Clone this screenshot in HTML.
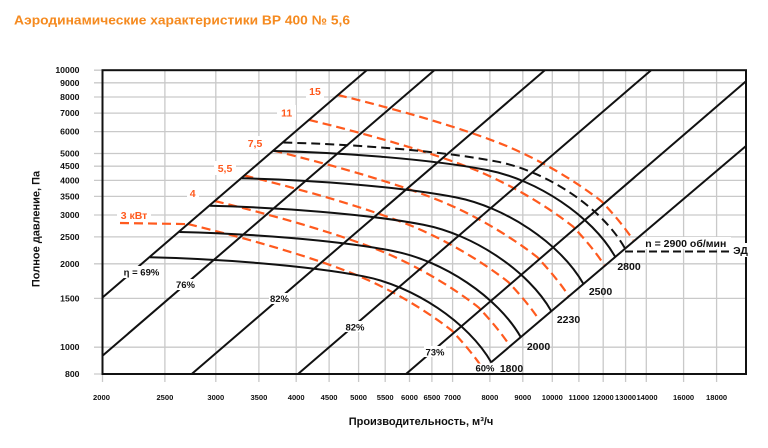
<!DOCTYPE html>
<html>
<head>
<meta charset="utf-8">
<style>
html,body{margin:0;padding:0;background:#fff;}
svg{display:block;}
text{font-family:"Liberation Sans","DejaVu Sans",sans-serif;}
</style>
</head>
<body>
<svg width="768" height="448" viewBox="0 0 768 448" xmlns="http://www.w3.org/2000/svg">
<rect width="768" height="448" fill="#fff"/>

<text x="14" y="24.5" font-size="13" font-weight="bold" fill="#f58a1f" textLength="336" lengthAdjust="spacingAndGlyphs">Аэродинамические характеристики ВР 400 № 5,6</text>

<!-- grid -->
<g stroke="#c9c9c9" stroke-width="1.3" fill="none">
  <line x1="164.9" y1="70" x2="164.9" y2="382"/>
  <line x1="215.8" y1="70" x2="215.8" y2="382"/>
  <line x1="258.9" y1="70" x2="258.9" y2="382"/>
  <line x1="296.2" y1="70" x2="296.2" y2="382"/>
  <line x1="329.1" y1="70" x2="329.1" y2="382"/>
  <line x1="358.6" y1="70" x2="358.6" y2="382"/>
  <line x1="385.2" y1="70" x2="385.2" y2="382"/>
  <line x1="409.5" y1="70" x2="409.5" y2="382"/>
  <line x1="431.9" y1="70" x2="431.9" y2="382"/>
  <line x1="452.6" y1="70" x2="452.6" y2="382"/>
  <line x1="489.9" y1="70" x2="489.9" y2="382"/>
  <line x1="522.8" y1="70" x2="522.8" y2="382"/>
  <line x1="552.3" y1="70" x2="552.3" y2="382"/>
  <line x1="578.9" y1="70" x2="578.9" y2="382"/>
  <line x1="603.2" y1="70" x2="603.2" y2="382"/>
  <line x1="625.6" y1="70" x2="625.6" y2="382"/>
  <line x1="646.3" y1="70" x2="646.3" y2="382"/>
  <line x1="683.6" y1="70" x2="683.6" y2="382"/>
  <line x1="716.6" y1="70" x2="716.6" y2="382"/>
  <line x1="102.5" y1="374" x2="102.5" y2="382"/>

  <line x1="94" y1="70.2" x2="746" y2="70.2"/>
  <line x1="94" y1="82.8" x2="746" y2="82.8"/>
  <line x1="94" y1="97" x2="746" y2="97"/>
  <line x1="94" y1="113.1" x2="746" y2="113.1"/>
  <line x1="94" y1="131.6" x2="746" y2="131.6"/>
  <line x1="94" y1="153.5" x2="746" y2="153.5"/>
  <line x1="94" y1="166.2" x2="746" y2="166.2"/>
  <line x1="94" y1="180.4" x2="746" y2="180.4"/>
  <line x1="94" y1="196.4" x2="746" y2="196.4"/>
  <line x1="94" y1="215" x2="746" y2="215"/>
  <line x1="94" y1="236.9" x2="746" y2="236.9"/>
  <line x1="94" y1="263.8" x2="746" y2="263.8"/>
  <line x1="94" y1="298.4" x2="746" y2="298.4"/>
  <line x1="94" y1="347.2" x2="746" y2="347.2"/>
  <line x1="94" y1="374" x2="746" y2="374"/>
</g>

<!-- y tick labels -->
<g font-size="8.7" font-weight="bold" fill="#111" text-anchor="end">
  <text x="79.5" y="73.2">10000</text>
  <text x="79.5" y="85.8">9000</text>
  <text x="79.5" y="100">8000</text>
  <text x="79.5" y="116.1">7000</text>
  <text x="79.5" y="134.6">6000</text>
  <text x="79.5" y="156.5">5000</text>
  <text x="79.5" y="169.2">4500</text>
  <text x="79.5" y="183.4">4000</text>
  <text x="79.5" y="199.4">3500</text>
  <text x="79.5" y="218">3000</text>
  <text x="79.5" y="239.9">2500</text>
  <text x="79.5" y="266.8">2000</text>
  <text x="79.5" y="301.4">1500</text>
  <text x="79.5" y="350.2">1000</text>
  <text x="79.5" y="377">800</text>
</g>

<!-- x tick labels -->
<g font-size="7.6" font-weight="bold" fill="#111" text-anchor="middle">
  <text x="101.5" y="400">2000</text>
  <text x="164.9" y="400">2500</text>
  <text x="215.8" y="400">3000</text>
  <text x="258.9" y="400">3500</text>
  <text x="296.2" y="400">4000</text>
  <text x="329.1" y="400">4500</text>
  <text x="358.6" y="400">5000</text>
  <text x="385.2" y="400">5500</text>
  <text x="409.5" y="400">6000</text>
  <text x="431.9" y="400">6500</text>
  <text x="452.6" y="400">7000</text>
  <text x="489.9" y="400">8000</text>
  <text x="522.8" y="400">9000</text>
  <text x="552.3" y="400">10000</text>
  <text x="578.9" y="400">11000</text>
  <text x="603.2" y="400">12000</text>
  <text x="625.6" y="400">13000</text>
  <text x="647" y="400">14000</text>
  <text x="683.6" y="400">16000</text>
  <text x="716.6" y="400">18000</text>
</g>

<!-- axis titles -->
<text x="421" y="425" font-size="11" font-weight="bold" fill="#111" text-anchor="middle">Производительность, м³/ч</text>
<text transform="translate(39.5,229) rotate(-90)" font-size="11" font-weight="bold" fill="#111" text-anchor="middle">Полное давление, Па</text>

<!-- power curves (orange dashed) -->
<defs>
  <path id="pw" d="M338,95 C395,109 460,127 506.6,146 C538,159.2 573,179 602,201.7 C612,212.5 624,226 633,240"/>
  <path id="sp" d="M273.5,151 C340,152.5 430,159 487,170 C537,179.6 592,216 615,256.5"/>
</defs>
<g fill="none" stroke="#ff5a1e" stroke-width="2.2" stroke-dasharray="9,5">
  <use href="#pw"/>
  <use href="#pw" transform="translate(-28.9,24.9)"/>
  <use href="#pw" transform="translate(-64.6,55.6)"/>
  <use href="#pw" transform="translate(-93.5,80.5)"/>
  <use href="#pw" transform="translate(-123.1,106)"/>
  <use href="#pw" transform="translate(-149.9,129.1)"/>
  <path d="M120,223 L188.1,224.1"/>
</g>

<!-- speed curves -->
<g fill="none" stroke="#111" stroke-width="2">
  <use href="#sp"/>
  <use href="#sp" transform="translate(-31.67,27.27)"/>
  <use href="#sp" transform="translate(-63.61,54.76)"/>
  <use href="#sp" transform="translate(-94.03,80.96)"/>
  <use href="#sp" transform="translate(-123.48,106.31)"/>
</g>
<g fill="none" stroke="#111" stroke-width="2" stroke-dasharray="9,5">
  <use href="#sp" transform="translate(9.81,-8.44)"/>
  <path d="M625,251.5 L731,251.5" stroke-dasharray="8,4"/>
</g>

<!-- straight diagonal lines -->
<g stroke="#111" stroke-width="2" fill="none">
  <line x1="102.5" y1="297.5" x2="366.7" y2="70.2"/>
  <line x1="102.5" y1="355.7" x2="434.3" y2="70.2"/>
  <line x1="191.7" y1="374" x2="544.8" y2="70.2"/>
  <line x1="298" y1="374" x2="651.1" y2="70.2"/>
  <line x1="406" y1="374" x2="746" y2="81.3"/>
  <line x1="491.5" y1="362" x2="746" y2="146"/>
</g>

<!-- plot border -->
<rect x="102.5" y="70.2" width="643.5" height="303.8" fill="none" stroke="#111" stroke-width="2"/>

<!-- label backgrounds -->
<g fill="#fff">
  <rect x="122" y="266" width="39" height="12"/>
  <rect x="175" y="279" width="21" height="11"/>
  <rect x="269" y="293" width="21" height="11"/>
  <rect x="344" y="321" width="22" height="11"/>
  <rect x="424" y="346" width="22" height="11"/>
  <rect x="474" y="363.5" width="22" height="9"/>
  <rect x="306" y="84" width="18" height="14"/>
  <rect x="277" y="105" width="19" height="15"/>
  <rect x="244" y="136" width="22" height="14"/>
  <rect x="214" y="161" width="22" height="14"/>
  <rect x="187" y="186" width="12" height="14"/>
  <rect x="117" y="208" width="34" height="12"/>
  <rect x="641" y="237" width="90" height="12"/>
  <rect x="733" y="243" width="15" height="14"/>
</g>

<!-- efficiency labels -->
<g font-size="9.5" font-weight="bold" fill="#111" text-anchor="middle">
  <text x="141.5" y="275.5">η = 69%</text>
  <text x="185.5" y="288">76%</text>
  <text x="279.5" y="302">82%</text>
  <text x="355" y="330.5">82%</text>
  <text x="435" y="355.5">73%</text>
  <text x="485" y="371.5">60%</text>
</g>

<!-- speed labels -->
<g font-size="10.5" font-weight="bold" fill="#111" text-anchor="middle">
  <text x="511.5" y="371.8">1800</text>
  <text x="538.5" y="349.8">2000</text>
  <text x="568.5" y="322.8">2230</text>
  <text x="600.5" y="294.8">2500</text>
  <text x="629" y="270">2800</text>
  <text x="685.8" y="247">n = 2900 об/мин</text>
  <text x="740.5" y="254">ЭД</text>
</g>

<!-- power labels -->
<g font-size="10.5" font-weight="bold" fill="#ff5a1e" text-anchor="middle">
  <text x="315" y="94.8">15</text>
  <text x="286.7" y="116.3">11</text>
  <text x="255" y="146.8">7,5</text>
  <text x="225" y="171.8">5,5</text>
  <text x="192.7" y="196.8">4</text>
  <text x="134" y="218.8">3 кВт</text>
</g>
</svg>
</body>
</html>
